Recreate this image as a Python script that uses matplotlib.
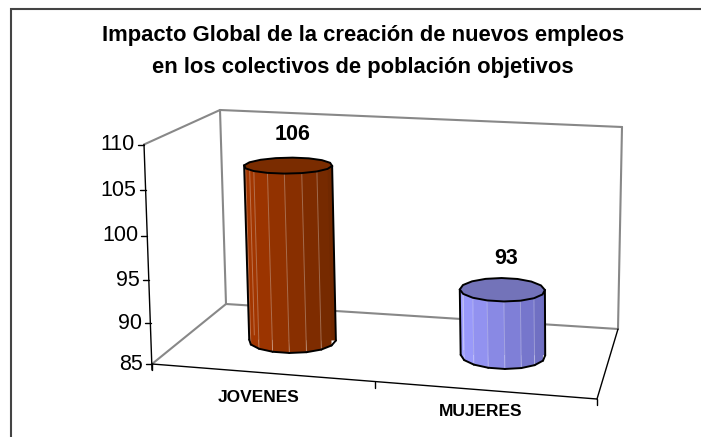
import matplotlib
matplotlib.use("Agg")
import matplotlib.pyplot as plt
from matplotlib.patches import Polygon
import numpy as np

categorias = ["JOVENES", "MUJERES"]
valores = [106, 93]
ticks = [85, 90, 95, 100, 105, 110]
titulo = "Impacto Global de la creación de nuevos empleos\nen los colectivos de población objetivos"

plt.rcParams["font.family"] = ["Liberation Sans", "DejaVu Sans"]

# caja 3D en pixeles (frente/fondo, izquierda/derecha, abajo/arriba)
FLB, FRB = np.array([152, 364.0]), np.array([597, 399.0])
BLB, BRB = np.array([226, 304.0]), np.array([618, 329.0])
FLT, FRT = np.array([144, 144.5]), np.array([592, 160.0])
BLT, BRT = np.array([220, 110.0]), np.array([622, 127.0])


def proy(u, d, valor):
    # u = posicion en categorias, d = profundidad, valor = eje y
    v = ((valor - ticks[0]) / (ticks[-1] - ticks[0])) ** 1.05
    abajo = (1 - d) * ((1 - u) * FLB + u * FRB) + d * ((1 - u) * BLB + u * BRB)
    arriba = (1 - d) * ((1 - u) * FLT + u * FRT) + d * ((1 - u) * BLT + u * BRT)
    return (1 - v) * abajo + v * arriba


def linea(ax, a, b, color, lw, z=1):
    ax.plot([a[0], b[0]], [a[1], b[1]], color=color, lw=lw, zorder=z, solid_capstyle="round")


def cilindro(ax, u, valor, c_claro, c_oscuro, c_tapa, d=0.52, ru=0.1, rd=0.2):
    ang = np.linspace(0, 2 * np.pi, 17) + 0.2
    base = np.array([proy(u + ru * np.cos(a), d + rd * np.sin(a), ticks[0]) for a in ang])
    tapa = np.array([proy(u + ru * np.cos(a), d + rd * np.sin(a), valor) for a in ang])
    x0 = tapa[:, 0].min()
    x1 = tapa[:, 0].max()
    izq_b, der_b = np.argmin(base[:-1, 0]), np.argmax(base[:-1, 0])
    izq_t, der_t = np.argmin(tapa[:-1, 0]), np.argmax(tapa[:-1, 0])
    # fondo para tapar la pared detras del cilindro
    ax.add_patch(Polygon([base[izq_b], tapa[izq_t], tapa[der_t], base[der_b]], fc=np.array(c_oscuro) / 255, ec="none", zorder=3))
    # caras visibles, mas oscuras hacia la derecha
    for i in range(16):
        if np.sin((ang[i] + ang[i + 1]) / 2) > 0:
            continue
        t = np.clip(((tapa[i, 0] + tapa[i + 1, 0]) / 2 - x0) / (x1 - x0), 0, 1)
        col = (1 - t) * np.array(c_claro) + t * np.array(c_oscuro)
        ax.add_patch(Polygon([base[i], base[i + 1], tapa[i + 1], tapa[i]], fc=col / 255, ec="none", zorder=3))
        ax.plot([base[i, 0], tapa[i, 0]], [base[i, 1], tapa[i, 1]], color="white", alpha=0.3, lw=0.7, zorder=4)
    # contorno: lados y el tramo de delante de la base
    linea(ax, base[izq_b], tapa[izq_t], "black", 1.4, 5)
    linea(ax, base[der_b], tapa[der_t], "black", 1.4, 5)
    i = izq_b
    while i != der_b:
        sig = (i + 1) % 16
        linea(ax, base[i], base[sig], "black", 1.4, 5)
        i = sig
    ax.add_patch(Polygon(tapa, fc=np.array(c_tapa) / 255, ec="black", lw=1.4, zorder=5))
    return proy(u, d, valor)


fig = plt.figure(figsize=(7.01, 4.37), dpi=100)
ax = fig.add_axes([0, 0, 1, 1])
ax.set_xlim(0, 701)
ax.set_ylim(437, 0)
ax.axis("off")

# borde del grafico
ax.plot([11, 11, 701], [437, 9, 9], color="#444444", lw=1.5, solid_joinstyle="miter")

ax.text(363, 51.5, titulo, ha="center", va="center", fontsize=15.8, fontweight="bold", linespacing=1.63)

# paredes
gris = "#888888"
linea(ax, FLT, BLT, gris, 1.5)
linea(ax, BLT, BRT, gris, 1.5)
linea(ax, BLT, BLB, gris, 1.5)
linea(ax, BRT, BRB, gris, 1.5)
linea(ax, BLB, BRB, gris, 1.5)
linea(ax, FLB, BLB, gris, 1.5)

# ejes
linea(ax, FLB + [0, 6], FLT, "black", 1, 2)
linea(ax, FLB, FRB, "black", 1, 2)
linea(ax, FRB, BRB, "black", 1, 2)
for t in ticks:
    p = proy(0, 0, t)
    linea(ax, p - [6, 0], p, "black", 1, 2)
    ax.text(p[0] - 9, p[1], str(t), ha="right", va="center", fontsize=15.5)
for u in [0, 0.5, 1]:
    p = proy(u, 0, ticks[0])
    linea(ax, p, p + [0, 6], "black", 1, 2)

colores = [
    ((165, 55, 0), (112, 40, 0), (122, 44, 0)),
    ((158, 158, 255), (108, 108, 190), (115, 115, 185)),
]
for i, (cat, val) in enumerate(zip(categorias, valores)):
    u = 0.245 + 0.504 * i
    c = colores[i]
    cima = cilindro(ax, u, val, c[0], c[1], c[2])
    ax.text(cima[0] + 4, cima[1] - 31, str(val), ha="center", va="center", fontsize=15.5, fontweight="bold", zorder=6)
    p = proy(0.25 + 0.5 * i, 0, ticks[0])
    ax.text(p[0] - 5, p[1] + 25 - 4 * i, cat, ha="center", va="center", fontsize=12.5, fontweight="bold")

fig.savefig("out.png", dpi=100)
